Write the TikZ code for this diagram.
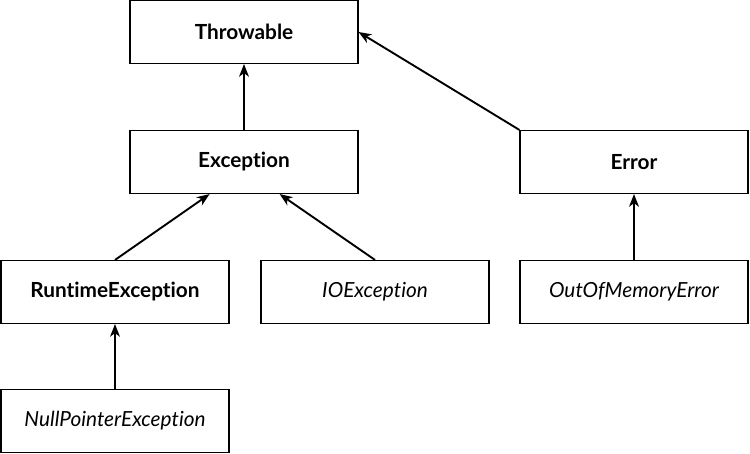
\documentclass[tikz,border=0pt]{standalone}
\usepackage{fontspec}
\setmainfont{Lato}[Ligatures={NoCommon}]
\usepackage{tikz}
\usetikzlibrary{arrows.meta}

\begin{document}
\begin{tikzpicture}[
      cls/.style={rectangle, draw=black, fill=white, minimum width=5.7cm, minimum height=1.575cm, align=center, font=\fontsize{14.8}{17}\selectfont\bfseries, line width=0.8pt, inner sep=0pt},
      leaf/.style={cls, font=\fontsize{14.8}{17}\selectfont\itshape},
      inherit/.style={-{Stealth[length=9pt, width=7pt, inset=2.6pt]}, line width=1.35pt}
    ]
      \useasboundingbox (0,0) rectangle (18.75,-11.35);
      \node[cls] (throwable) at (6.1,-0.8) {Throwable};
      \node[cls] (exception) at (6.1,-4.05) {Exception};
      \node[cls] (error) at (15.85,-4.05) {Error};
      \node[cls] (runtime) at (2.875,-7.3) {RuntimeException};
      \node[leaf] (ioexc) at (9.375,-7.3) {IOException};
      \node[leaf] (oom) at (15.85,-7.3) {OutOfMemoryError};
      \node[leaf] (npe) at (2.875,-10.525) {NullPointerException};

      \draw[inherit] (exception) -- (throwable);
      \draw[inherit] (error.north west) -- (throwable.east);
      \draw[inherit] (runtime.north) -- (exception.-137);
      \draw[inherit] (ioexc.north) -- (exception.-42);
      \draw[inherit] (oom) -- (error);
      \draw[inherit] (npe) -- (runtime);
    \end{tikzpicture}
\end{document}
